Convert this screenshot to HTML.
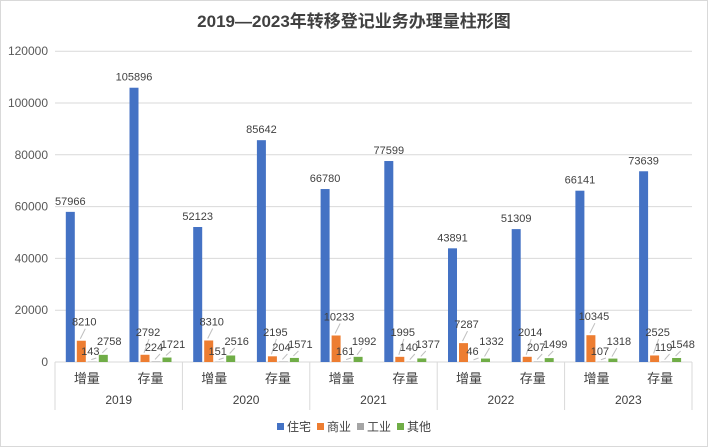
<!DOCTYPE html>
<html><head><meta charset="utf-8"><style>
html,body{margin:0;padding:0;background:#fff;}
svg{display:block;font-family:"Liberation Sans","Noto Sans CJK SC",sans-serif;}
</style></head><body>
<svg id="c" width="708" height="447" viewBox="0 0 708 447" xmlns="http://www.w3.org/2000/svg">
<rect x="0.5" y="0.5" width="707" height="446" fill="#fff" stroke="#d9d9d9"/>
<text x="354" y="27" text-anchor="middle" font-size="17" font-weight="bold" fill="#404040">2019—2023年转移登记业务办理量柱形图</text>
<g id="g"></g>
</svg>
<script>
(function(){
var g=document.getElementById('g'),s='';
var y0=362,k=51.8/20000,x0=55,cw=63.7;
for(var i=0;i<=6;i++){var y=y0-i*51.8;
 s+='<line x1="55" x2="692" y1="'+y+'" y2="'+y+'" stroke="#d9d9d9"/>';
 s+='<text x="48" y="'+(y+4)+'" text-anchor="end" font-size="12" fill="#595959">'+(i*20000)+'</text>';}
var d=[[57966,8210,143,2758],[105896,2792,224,1721],[52123,8310,151,2516],[85642,2195,204,1571],[66780,10233,161,1992],[77599,1995,140,1377],[43891,7287,46,1332],[51309,2014,207,1499],[66141,10345,107,1318],[73639,2525,119,1548]];
var col=['#4472c4','#ed7d31','#a5a5a5','#70ad47'];
for(var c=0;c<10;c++){var cx=x0+c*cw;
 for(var b=0;b<4;b++){var v=d[c][b],h=v*k,bx=cx+10.8+b*11,ty=y0-h,m=bx+4.5;
  s+='<rect x="'+bx+'" y="'+ty+'" width="9" height="'+h+'" fill="'+col[b]+'"/>';
  if(b==0){s+='<text x="'+m+'" y="'+(ty-7)+'" text-anchor="middle" font-size="11" fill="#404040">'+v+'</text>';}
  else{var ly,lx;
   if(b==1){ly=c%2?336:ty-15;lx=m+3;}
   else if(b==2){ly=c%2?351:355;lx=m-2;}
   else{ly=c%2?348:345;lx=m+6;}
   s+='<line x1="'+(m-1)+'" y1="'+(ty-2)+'" x2="'+(m+4)+'" y2="'+(ly+3)+'" stroke="#bfbfbf"/>';
   s+='<text x="'+lx+'" y="'+ly+'" text-anchor="middle" font-size="11" fill="#404040">'+v+'</text>';}
 }
 s+='<text x="'+(cx+cw/2)+'" y="383" text-anchor="middle" font-size="13" fill="#404040">'+(c%2?'存量':'增量')+'</text>';
}
for(var j=0;j<=5;j++){var x=x0+j*2*cw;s+='<line x1="'+x+'" x2="'+x+'" y1="362" y2="410" stroke="#d9d9d9"/>';
 if(j<5)s+='<text x="'+(x+cw)+'" y="404" text-anchor="middle" font-size="12" fill="#404040">'+(2019+j)+'</text>';}
var lg=['住宅','商业','工业','其他'],lx0=277;
for(var i=0;i<4;i++){var x=lx0+i*40;s+='<rect x="'+x+'" y="423" width="7" height="7" fill="'+col[i]+'"/><text x="'+(x+10)+'" y="431" font-size="12" fill="#404040">'+lg[i]+'</text>';}
g.innerHTML=s;
})();
</script>
</body></html>
